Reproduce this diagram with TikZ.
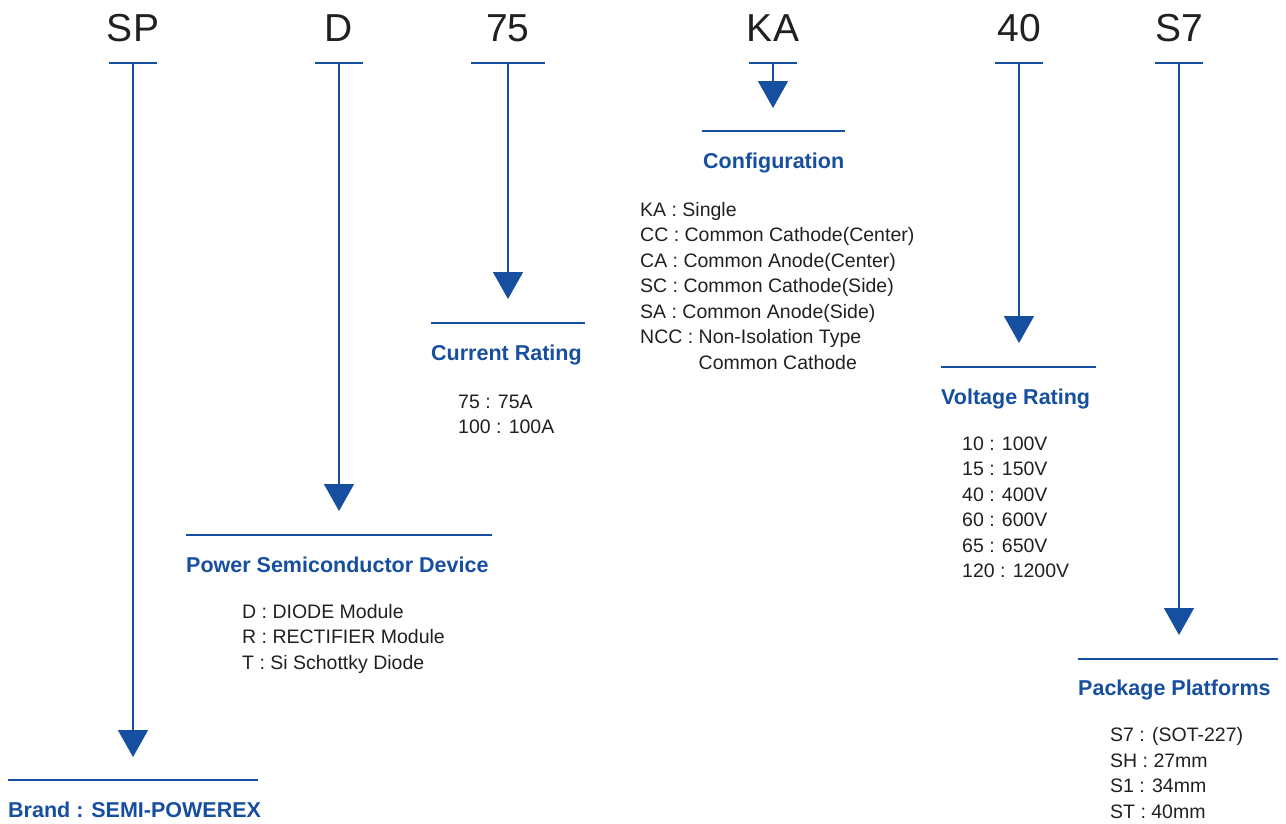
\documentclass[tikz,border=0pt]{standalone}
\usepackage{fontspec}
\setmainfont{Liberation Sans}
\usetikzlibrary{arrows.meta}
\definecolor{pxblue}{RGB}{22,78,160}
\definecolor{pxtext}{RGB}{35,31,32}

\begin{document}
\begin{tikzpicture}[x=1pt, y=-1pt,
 code/.style = {font=\fontsize{39}{39}\selectfont, text=pxtext,
      inner sep=0pt, anchor=base},
 cbar/.style = {draw=pxblue, line width=2.5pt},
 lead/.style = {draw=pxblue, line width=1.5pt,
      -{Triangle[width=30pt,length=27pt]}},
 tbar/.style = {draw=pxblue, line width=2.8pt},
 head/.style = {font=\fontsize{21.5}{21.5}\bfseries\selectfont, text=pxblue,
      inner sep=0pt, anchor=base west},
 % base of a list node is the baseline of its last line
 item/.style = {font=\fontsize{19.5}{25.5}\selectfont, text=pxtext,
      inner sep=0pt, anchor=base west, align=left}
                    ]
\useasboundingbox (0,0) rectangle (1286,823);
% part number codes and their leads
\foreach \nm/\txt/\x/\hw/\tip in {sp/SP/133/24/757, d/D/339/24/511,
    cur/75/508/37/299, ka/KA/773/24/108, volt/40/1019/24/343,
    pkg/S7/1179/24/635}{
  \node[code] (\nm) at (\x,41) {\txt};
  \draw[cbar] (\x-\hw,63) -- (\x+\hw,63);
  \coordinate (\nm-top) at (\x,63);
  \coordinate (\nm-tip) at (\x,\tip);
  \draw[lead] (\nm-top) -- (\nm-tip);
}
%
\draw[tbar] (8,780) -- (258,780);
\node[head] (brand) at (8,817) {Brand : SEMI-POWEREX};
%
\draw[tbar] (186,535) -- (492,535);
\node[head] (device) at (186,572) {Power Semiconductor Device};
\node[item] (device-list) at (242,669)
    {D : DIODE Module\\R : RECTIFIER Module\\T : Si Schottky Diode};
%
\draw[tbar] (431,323) -- (585,323);
\node[head] (current) at (431,360) {Current Rating};
\node[item] (current-list) at (458,433.5) {75 : 75A\\100 : 100A};
%
\draw[tbar] (702,131) -- (845,131);
\node[head] (config) at (703,168) {Configuration};
\node[item] (config-list) at (640,369)
    {KA : Single\\CC : Common Cathode(Center)\\CA : Common Anode(Center)\\
     SC : Common Cathode(Side)\\SA : Common Anode(Side)\\
     NCC : Non-Isolation Type\\\phantom{NCC : }Common Cathode};
%
\draw[tbar] (941,367) -- (1096,367);
\node[head] (voltage) at (941,404) {Voltage Rating};
\node[item] (voltage-list) at (962,577.5)
    {10 : 100V\\15 : 150V\\40 : 400V\\60 : 600V\\65 : 650V\\120 : 1200V};
%
\draw[tbar] (1078,659) -- (1278,659);
\node[head] (package) at (1078,695) {Package Platforms};
\node[item] (package-list) at (1110,818)
    {S7 : (SOT-227)\\SH : 27mm\\S1 : 34mm\\ST : 40mm};
\end{tikzpicture}
\end{document}
